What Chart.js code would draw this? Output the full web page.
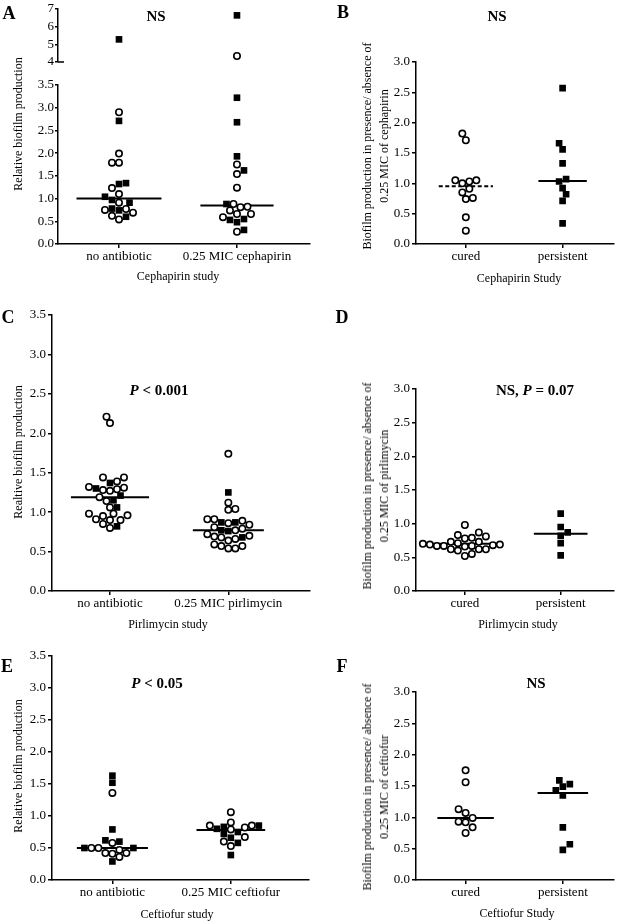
<!DOCTYPE html>
<html>
<head>
<meta charset="utf-8">
<script src="https://cdn.jsdelivr.net/npm/chart.js@4.4.0/dist/chart.umd.min.js"></script>
<style>
  html, body { margin: 0; padding: 0; background: #fff; }
  #fig { position: relative; width: 619px; height: 922px; overflow: hidden; color: #000;
         font-family: 'Liberation Serif', 'Times New Roman', serif; }
  #fig canvas { position: absolute; }
  .txt { position: absolute; white-space: nowrap; transform: translate(-50%, -50%); font-size: 12px; line-height: 1; }
  .vert { transform: translate(-50%, -50%) rotate(-90deg); text-align: center; line-height: 17px; }
  .letter { font-weight: bold; font-size: 18px; }
  .note { font-weight: bold; font-size: 15px; }
</style>
</head>
<body>
<div id="fig"></div>
<script>
const FONT = "'Liberation Serif', 'Times New Roman', serif";

// ---- A : Cephapirin study ----
const cephCats = ['no antibiotic', '0.25 MIC cephapirin'];
const cephNoAbOpen = [2.90, 1.99, 1.79, 1.79, 1.23, 1.10, 0.91, 0.77, 0.75, 0.69, 0.62, 0.54];
const cephNoAbFilled = [5.28, 2.71, 1.34, 1.32, 1.04, 0.97, 0.91, 0.78, 0.74, 0.60];
const cephMicOpen = [4.34, 1.75, 1.54, 1.24, 0.88, 0.82, 0.81, 0.74, 0.66, 0.66, 0.59, 0.27];
const cephMicFilled = [6.64, 3.22, 2.68, 1.93, 1.62, 0.88, 0.55, 0.53, 0.48, 0.31];
const cephMedians = [1.00, 0.85];

// ---- B : Cephapirin, cured vs persistent ----
const outcomeCats = ['cured', 'persistent'];
const cephCured = [1.82, 1.71, 1.05, 1.05, 1.03, 1.00, 0.91, 0.85, 0.76, 0.74, 0.44, 0.22];
const cephPersistent = [2.57, 1.66, 1.56, 1.33, 1.07, 1.03, 0.92, 0.82, 0.71, 0.34];
const cephOutcomeMedians = [0.95, 1.04];

// ---- C : Pirlimycin study ----
const pirlCats = ['no antibiotic', '0.25 MIC pirlimycin'];
const pirlNoAbOpen = [2.21, 2.13, 1.44, 1.44, 1.39, 1.32, 1.31, 1.29, 1.28, 1.27, 1.19, 1.14,
                      1.06, 0.98, 0.98, 0.96, 0.95, 0.91, 0.90, 0.90, 0.85, 0.80];
const pirlNoAbFilled = [1.37, 1.30, 1.21, 1.15, 1.06, 0.82];
const pirlMicOpen = [1.74, 1.12, 1.04, 1.03, 0.91, 0.91, 0.89, 0.86, 0.84, 0.81, 0.79, 0.77,
                     0.72, 0.70, 0.69, 0.68, 0.66, 0.64, 0.59, 0.57, 0.57, 0.54, 0.54];
const pirlMicFilled = [1.25, 0.87, 0.87, 0.77, 0.76, 0.68];
const pirlMedians = [1.19, 0.77];

// ---- D : Pirlimycin, cured vs persistent ----
const pirlCured = [0.98, 0.87, 0.83, 0.81, 0.79, 0.78, 0.73, 0.73, 0.71, 0.70, 0.69, 0.69,
                   0.68, 0.67, 0.67, 0.67, 0.66, 0.62, 0.62, 0.62, 0.60, 0.55, 0.52];
const pirlPersistent = [1.15, 0.95, 0.87, 0.82, 0.71, 0.53];
const pirlOutcomeMedians = [0.70, 0.85];

// ---- E : Ceftiofur study ----
const ceftCats = ['no antibiotic', '0.25 MIC ceftiofur'];
const ceftNoAbOpen = [1.36, 0.58, 0.50, 0.50, 0.47, 0.42, 0.42, 0.41, 0.36];
const ceftNoAbFilled = [1.63, 1.52, 0.79, 0.62, 0.60, 0.50, 0.50, 0.29];
const ceftMicOpen = [1.06, 0.90, 0.85, 0.85, 0.82, 0.79, 0.67, 0.60, 0.53];
const ceftMicFilled = [0.85, 0.83, 0.80, 0.75, 0.72, 0.66, 0.58, 0.39];
const ceftMedians = [0.50, 0.78];

// ---- F : Ceftiofur, cured vs persistent ----
const ceftCured = [1.75, 1.56, 1.13, 1.07, 0.99, 0.93, 0.92, 0.84, 0.75];
const ceftPersistent = [1.59, 1.53, 1.49, 1.43, 1.35, 0.84, 0.57, 0.48];
const ceftOutcomeMedians = [0.99, 1.39];

const fig = document.getElementById('fig');

// panel layout (canvas box + plot area in page pixels)
const panels = [
  { cats: cephCats, open: [cephNoAbOpen, cephMicOpen], filled: [cephNoAbFilled, cephMicFilled],
    medians: [], keep: v => v > 3.5, y: [4, 7, 1, 0], x: [-0.517, 1.619],
    box: [0, 0, 316, 72], area: [58, 9, 310, 62], showX: false, tick: [3, 1], breakMark: true },
  { cats: cephCats, open: [cephNoAbOpen, cephMicOpen], filled: [cephNoAbFilled, cephMicFilled],
    medians: cephMedians, half: [0.36, 0.31], keep: v => v <= 3.5, y: [0, 3.5, 0.5, 1], x: [-0.517, 1.619],
    box: [0, 70, 316, 202], area: [58, 85, 310, 244], showX: true, tick: [3, 1] },
  { cats: outcomeCats, open: [cephCured, []], filled: [[], cephPersistent],
    medians: cephOutcomeMedians, half: [0.28, 0.25], dashed: [true, false], y: [0, 3, 0.5, 1], x: [-0.515, 1.525],
    box: [330, 45, 289, 227], area: [416, 62, 618, 244], showX: true, tick: [4, 2] },
  { cats: pirlCats, open: [pirlNoAbOpen, pirlMicOpen], filled: [pirlNoAbFilled, pirlMicFilled],
    medians: pirlMedians, half: [0.33, 0.30], y: [0, 3.5, 0.5, 1], x: [-0.49, 1.69],
    box: [0, 300, 316, 320], area: [52, 315, 310, 591], showX: true, tick: [4, 2] },
  { cats: outcomeCats, open: [pirlCured, []], filled: [[], pirlPersistent],
    medians: pirlOutcomeMedians, half: [0.33, 0.28], y: [0, 3, 0.5, 1], x: [-0.51, 1.55],
    box: [330, 370, 289, 250], area: [416, 389, 618, 591], showX: true, tick: [4, 2] },
  { cats: ceftCats, open: [ceftNoAbOpen, ceftMicOpen], filled: [ceftNoAbFilled, ceftMicFilled],
    medians: ceftMedians, half: [0.30, 0.29], y: [0, 3.5, 0.5, 1], x: [-0.51, 1.66],
    box: [0, 640, 316, 268], area: [52, 656, 309, 880], showX: true, tick: [4, 2] },
  { cats: outcomeCats, open: [ceftCured, []], filled: [[], ceftPersistent],
    medians: ceftOutcomeMedians, half: [0.29, 0.26], y: [0, 3, 0.5, 1], x: [-0.51, 1.52],
    box: [330, 675, 289, 233], area: [416, 692, 618, 880], showX: true, tick: [4, 2] }
];

// small stub at the lower end of the broken axis
const breakMark = {
  id: 'breakMark',
  afterDraw(chart, args, opts) {
    if (!opts.on) return;
    const { ctx, chartArea } = chart;
    const y = chart.scales.y.getPixelForValue(chart.scales.y.min);
    ctx.save();
    ctx.strokeStyle = '#000';
    ctx.lineWidth = 1.5;
    ctx.beginPath();
    ctx.moveTo(chartArea.left, y);
    ctx.lineTo(chartArea.left + 6, y);
    ctx.stroke();
    ctx.restore();
  }
};

// spread points sideways like a dot plot so they don't overlap
function spread(chart, dia) {
  const xs = chart.scales.x, ys = chart.scales.y;
  const unit = xs.getPixelForValue(1) - xs.getPixelForValue(0);
  const step = dia / 2;
  const groups = {};
  chart.data.datasets.forEach(ds => {
    if (!ds.swarm) return;
    ds.data = ds.data.map(p => ({ ...p }));
    ds.data.forEach(p => { (groups[p.cat] = groups[p.cat] || []).push(p); });
  });
  Object.values(groups).forEach(pts => {
    pts.sort((a, b) => a.y - b.y);
    const placed = [];
    let flip = 1;
    pts.forEach(p => {
      const py = ys.getPixelForValue(p.y);
      for (let k = 0; k < 60; k++) {
        const cands = k === 0 ? [0] : [flip * k * step, -flip * k * step];
        const hit = cands.find(dx => placed.every(q => Math.hypot(q.dx - dx, q.py - py) >= dia));
        if (hit !== undefined) {
          placed.push({ dx: hit, py });
          p.x = p.cat + hit / unit;
          if (k) flip = -flip;
          break;
        }
      }
    });
  });
  chart.update('none');
}

function makePanel(p) {
  const [bx, by, bw, bh] = p.box;
  const [al, at, ar, ab] = p.area;
  const cv = document.createElement('canvas');
  cv.width = bw; cv.height = bh;
  cv.style.left = bx + 'px'; cv.style.top = by + 'px';
  fig.appendChild(cv);

  const keep = p.keep || (() => true);
  const openPts = [], filledPts = [];
  p.open.forEach((vals, i) => vals.filter(keep).forEach(v => openPts.push({ x: i, y: v, cat: i })));
  p.filled.forEach((vals, i) => vals.filter(keep).forEach(v => filledPts.push({ x: i, y: v, cat: i })));

  const datasets = [
    { data: openPts, swarm: true, pointStyle: 'circle', pointRadius: 3.2, borderWidth: 1.6,
      borderColor: '#000', backgroundColor: '#fff', order: 1 },
    { data: filledPts, swarm: true, pointStyle: 'rect', pointRadius: 4.7, borderWidth: 0,
      borderColor: '#000', backgroundColor: '#000', order: 1 }
  ];
  p.medians.forEach((m, i) => datasets.push({
    data: [{ x: i - p.half[i], y: m }, { x: i + p.half[i], y: m }],
    showLine: true, pointRadius: 0, borderColor: '#000', borderWidth: 2,
    borderDash: p.dashed && p.dashed[i] ? [4, 2.5] : [], order: 2
  }));

  const [ymin, ymax, ystep, digits] = p.y;
  const tickFont = { family: FONT, size: 13 };
  const chart = new Chart(cv, {
    type: 'scatter',
    data: { datasets },
    options: {
      responsive: false,
      animation: false,
      devicePixelRatio: 1,
      layout: { padding: { left: 0, top: at - by, right: bx + bw - ar, bottom: 0 } },
      plugins: { legend: { display: false }, tooltip: { enabled: false }, breakMark: { on: !!p.breakMark } },
      scales: {
        x: {
          type: 'linear', min: p.x[0], max: p.x[1], display: p.showX,
          afterBuildTicks: s => { s.ticks = p.cats.map((c, i) => ({ value: i })); },
          ticks: { callback: v => p.cats[v], color: '#000', font: tickFont, padding: 1,
                   maxRotation: 0, autoSkip: false },
          grid: { drawOnChartArea: false, tickLength: 4, color: '#000', lineWidth: 1.5 },
          border: { display: true, color: '#000', width: 1.5 },
          afterFit: s => { s.height = by + bh - ab; }
        },
        y: {
          min: ymin, max: ymax,
          ticks: { stepSize: ystep, color: '#000', font: tickFont, padding: p.tick[1], autoSkip: false,
                   callback: v => Number(v).toFixed(digits) },
          grid: { drawOnChartArea: false, tickLength: p.tick[0], color: '#000', lineWidth: 1.5 },
          border: { display: true, color: '#000', width: 1.5 },
          afterFit: s => { s.width = al - bx; }
        }
      }
    },
    plugins: [breakMark]
  });
  spread(chart, 7);
}

panels.forEach(makePanel);

// panel letters, annotations and axis titles
const texts = [
  ['A', 9, 13, 'letter'],
  ['NS', 156, 16, 'note'],
  ['Relative biofilm production', 18, 124, 'vert'],
  ['Cephapirin study', 178, 276, ''],
  ['B', 343, 12, 'letter'],
  ['NS', 497, 16, 'note'],
  ['Biofilm production in presence/ absence of<br>0.25 MIC of cephapirin', 375.5, 146, 'vert'],
  ['Cephapirin Study', 519, 278, ''],
  ['C', 8, 317, 'letter'],
  ['<i>P</i> &lt; 0.001', 159, 390, 'note'],
  ['Realtive biofilm production', 18, 452, 'vert'],
  ['Pirlimycin study', 168, 624, ''],
  ['D', 342, 317, 'letter'],
  ['NS, <i>P</i> = 0.07', 535, 390, 'note'],
  ['Biofilm production in presence/ absence of<br>0.25 MIC of  pirlimycin', 375.5, 486, 'vert'],
  ['Pirlimycin study', 518, 624, ''],
  ['E', 7, 666, 'letter'],
  ['<i>P</i> &lt; 0.05', 157, 683, 'note'],
  ['Relative biofilm production', 18, 766, 'vert'],
  ['Ceftiofur study', 177, 914, ''],
  ['F', 342, 666, 'letter'],
  ['NS', 536, 683, 'note'],
  ['Biofilm production in presence/ absence of<br>0.25 MIC of ceftiofur', 375.5, 787, 'vert'],
  ['Ceftiofur Study', 517, 913, '']
];
texts.forEach(([html, x, y, cls]) => {
  const d = document.createElement('div');
  d.className = ('txt ' + cls).trim();
  d.innerHTML = html;
  d.style.left = x + 'px';
  d.style.top = y + 'px';
  fig.appendChild(d);
});
</script>
</body>
</html>
